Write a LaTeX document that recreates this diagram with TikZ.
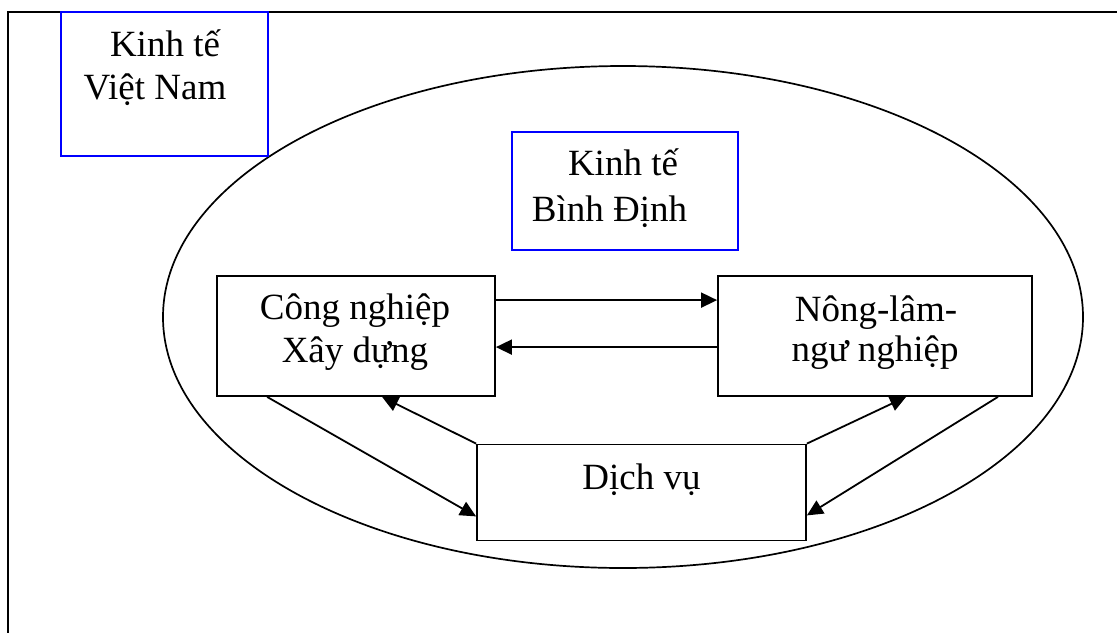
\documentclass[tikz,border=0pt]{standalone}
\usepackage{fontspec}
\setmainfont{Liberation Serif}
\usetikzlibrary{arrows.meta}
\tikzset{
  box/.style={draw=black, line width=1.8pt, inner sep=0pt},
  bluebox/.style={draw=blue, line width=1.8pt, inner sep=0pt},
  label/.style={anchor=base, inner sep=0pt, font=\fontsize{37}{43}\selectfont},
  arr/.style={line width=1.8pt, -{Triangle[length=16pt,width=15pt]}},
  link/.style={line width=1.8pt}
}
\begin{document}
\begin{tikzpicture}[x=1pt, y=-1pt]
\useasboundingbox (0,0) rectangle (1117,633);

% open frame: top and left edges only
\draw[line width=2.4pt] (1117,12) -- (8,12) -- (8,633);

% surrounding ellipse
\draw[line width=1.7pt] (623,317) ellipse [x radius=460pt, y radius=251pt];

% boxes
\node[bluebox, minimum width=207pt, minimum height=144pt] (vn) at (164.5,84) {};
\node[bluebox, minimum width=226pt, minimum height=118pt] (bd) at (625,191) {};
\node[box, minimum width=278pt, minimum height=120pt] (cn) at (356,336) {};
\node[box, minimum width=314pt, minimum height=120pt] (nl) at (875,336) {};
\node[box, minimum width=329pt, minimum height=96pt] (dv) at (641.5,492.5) {};

% texts
\node[label] (vn1) at ([shift={(0.5,45)}]vn.north) {Kinh tế};
\node[label] (vn2) at ([shift={(-9.5,88)}]vn.north) {Việt Nam};
\node[label] (bd1) at ([shift={(-2,44)}]bd.north) {Kinh tế};
\node[label] (bd2) at ([shift={(-15.5,90)}]bd.north) {Bình Định};
\node[label] (cn1) at ([shift={(-1,44)}]cn.north) {Công nghiệp};
\node[label] (cn2) at ([shift={(-1,87)}]cn.north) {Xây dựng};
\node[label] (nl1) at ([shift={(1,46)}]nl.north) {Nông-lâm-};
\node[label] (nl2) at ([shift={(0,86)}]nl.north) {ngư nghiệp};
\node[label] (dv1) at ([shift={(0,46)}]dv.north) {Dịch vụ};

% exchanges between the sectors
\draw[arr] ([yshift=-25pt]cn.north east) -- ([yshift=-25pt]nl.north west);
\draw[arr] ([yshift=-72pt]nl.north west) -- ([yshift=-72pt]cn.north east);

\draw[arr] ([xshift=51pt]cn.south west) -- ([yshift=25pt]dv.south west);
\draw[arr] (dv.north west) -- ([xshift=166pt]cn.south west);
\draw[arr] (dv.north east) -- ([xshift=189pt]nl.south west);
\draw[arr] ([xshift=-35pt]nl.south east) -- ([yshift=26pt]dv.south east);
\end{tikzpicture}
\end{document}
